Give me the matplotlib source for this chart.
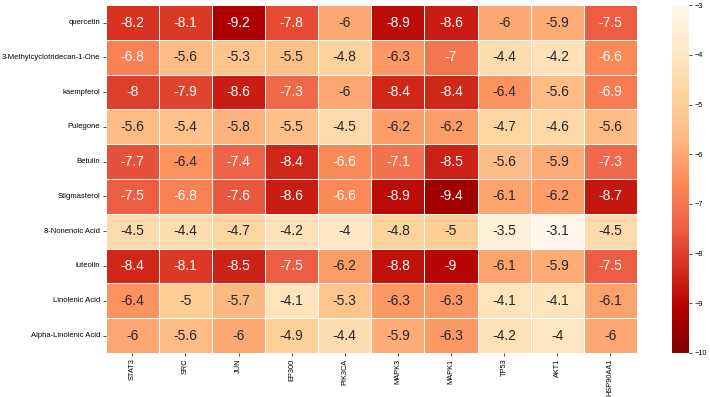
import matplotlib
matplotlib.use("Agg")
import matplotlib.pyplot as plt
import seaborn as sns
import numpy as np

compounds = ["quercetin", "3-Methylcyclotridecan-1-One", "kaempferol", "Pulegone",
             "Betulin", "Stigmasterol", "8-Nonenoic Acid", "luteolin",
             "Linolenic Acid", "Alpha-Linolenic Acid"]
targets = ["STAT3", "SRC", "JUN", "EP300", "PIK3CA", "MAPK3", "MAPK1", "TP53", "AKT1", "HSP90AA1"]

scores = np.array([
    [-8.2, -8.1, -9.2, -7.8, -6.0, -8.9, -8.6, -6.0, -5.9, -7.5],
    [-6.8, -5.6, -5.3, -5.5, -4.8, -6.3, -7.0, -4.4, -4.2, -6.6],
    [-8.0, -7.9, -8.6, -7.3, -6.0, -8.4, -8.4, -6.4, -5.6, -6.9],
    [-5.6, -5.4, -5.8, -5.5, -4.5, -6.2, -6.2, -4.7, -4.6, -5.6],
    [-7.7, -6.4, -7.4, -8.4, -6.6, -7.1, -8.5, -5.6, -5.9, -7.3],
    [-7.5, -6.8, -7.6, -8.6, -6.6, -8.9, -9.4, -6.1, -6.2, -8.7],
    [-4.5, -4.4, -4.7, -4.2, -4.0, -4.8, -5.0, -3.5, -3.1, -4.5],
    [-8.4, -8.1, -8.5, -7.5, -6.2, -8.8, -9.0, -6.1, -5.9, -7.5],
    [-6.4, -5.0, -5.7, -4.1, -5.3, -6.3, -6.3, -4.1, -4.1, -6.1],
    [-6.0, -5.6, -6.0, -4.9, -4.4, -5.9, -6.3, -4.2, -4.0, -6.0],
])

plt.rcParams['font.family'] = ['Liberation Sans', 'DejaVu Sans']

fig = plt.figure(figsize=(7.1, 3.97), dpi=100)
ax = fig.add_axes([0.149, 0.111, 0.748, 0.876])
cax = fig.add_axes([0.946, 0.111, 0.024, 0.876])

sns.heatmap(scores, ax=ax, cbar_ax=cax, cmap="OrRd_r", vmin=-10, vmax=-3,
            annot=True, fmt="g", annot_kws={"fontsize": 10},
            linewidths=0.7, linecolor="white",
            xticklabels=targets, yticklabels=compounds)

ax.tick_params(axis="x", labelsize=5.3, length=2, width=0.5, pad=2)
ax.tick_params(axis="y", labelsize=5.5, length=2, width=0.5, pad=2)
ax.set_xticklabels(targets, rotation=90)
ax.set_yticklabels(compounds, rotation=0)
cax.tick_params(labelsize=5.3, length=2, width=0.5, pad=2)
for sp in cax.spines.values():
    sp.set_visible(False)

fig.savefig("out.png", dpi=100)
